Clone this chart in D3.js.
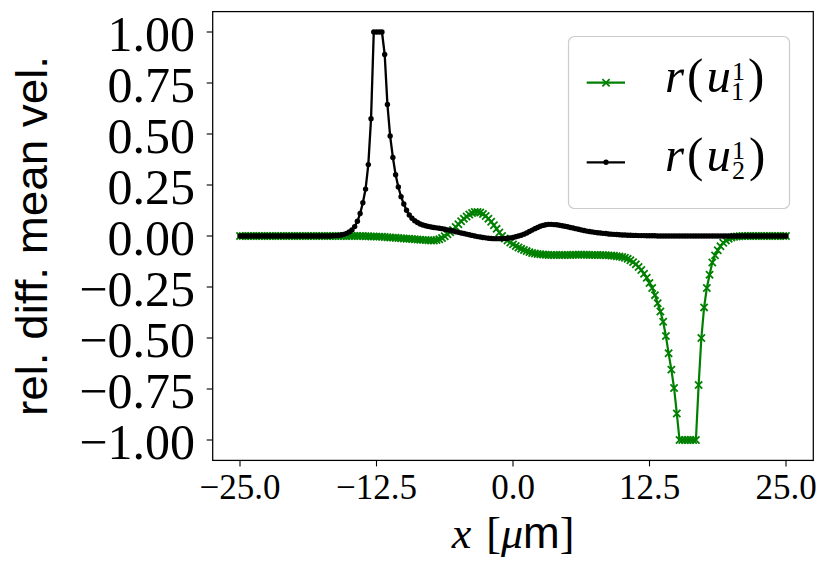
<!DOCTYPE html>
<html><head><meta charset="utf-8">
<script src="https://cdn.jsdelivr.net/npm/d3@7"></script>
<style>body{margin:0;background:#fff}svg{display:block}</style>
</head><body>
<svg id="c" width="830" height="575"></svg>
<script>
// sample positions x [µm]
const xs = [
-25,-24.75,-24.5,-24.25,-24,-23.75,-23.5,-23.25,-23,-22.75,-22.5,-22.25,-22,-21.75,-21.5,-21.25,-21,-20.75,-20.5,-20.25,
-20,-19.75,-19.5,-19.25,-19,-18.75,-18.5,-18.25,-18,-17.75,-17.5,-17.25,-17,-16.75,-16.5,-16.25,-16,-15.75,-15.5,-15.25,
-15,-14.75,-14.5,-14.25,-14,-13.75,-13.5,-13.25,-13,-12.75,-12.5,-12.25,-12,-11.75,-11.5,-11.25,-11,-10.75,-10.5,-10.25,
-10,-9.75,-9.5,-9.25,-9,-8.75,-8.5,-8.25,-8,-7.75,-7.5,-7.25,-7,-6.75,-6.5,-6.25,-6,-5.75,-5.5,-5.25,
-5,-4.75,-4.5,-4.25,-4,-3.75,-3.5,-3.25,-3,-2.75,-2.5,-2.25,-2,-1.75,-1.5,-1.25,-1,-0.75,-0.5,-0.25,
0,0.25,0.5,0.75,1,1.25,1.5,1.75,2,2.25,2.5,2.75,3,3.25,3.5,3.75,4,4.25,4.5,4.75,
5,5.25,5.5,5.75,6,6.25,6.5,6.75,7,7.25,7.5,7.75,8,8.25,8.5,8.75,9,9.25,9.5,9.75,
10,10.25,10.5,10.75,11,11.25,11.5,11.75,12,12.25,12.5,12.75,13,13.25,13.5,13.75,14,14.25,14.5,14.75,
15,15.25,15.5,15.75,16,16.25,16.5,16.75,17,17.25,17.5,17.75,18,18.25,18.5,18.75,19,19.25,19.5,19.75,
20,20.25,20.5,20.75,21,21.25,21.5,21.75,22,22.25,22.5,22.75,23,23.25,23.5,23.75,24,24.25,24.5,24.75,
25];

// r(u_1^1)
const ru1 = [
0,0,0,0,0,0,0,0,0,0,0,0,0,0,0,0,0,0,0,0,
0,0,0,0,0,0,0,0,0,0,0,0,0,0,0,0,0,0,0,0,
0,0,0,0,0,0,-0.001,-0.001,-0.002,-0.002,-0.003,-0.003,-0.004,-0.005,-0.006,-0.007,-0.008,-0.009,-0.01,-0.011,
-0.012,-0.013,-0.014,-0.015,-0.016,-0.017,-0.018,-0.019,-0.02,-0.021,-0.022,-0.022,-0.02,-0.016,-0.01,-0.001,0.008,0.018,0.03,0.044,
0.058,0.072,0.085,0.096,0.105,0.113,0.118,0.118,0.115,0.108,0.098,0.085,0.07,0.053,0.035,0.017,0,-0.012,-0.022,-0.032,
-0.041,-0.049,-0.056,-0.063,-0.069,-0.074,-0.079,-0.083,-0.086,-0.088,-0.09,-0.091,-0.092,-0.093,-0.093,-0.093,-0.093,-0.093,-0.093,-0.093,
-0.093,-0.093,-0.092,-0.092,-0.092,-0.092,-0.092,-0.092,-0.093,-0.093,-0.093,-0.093,-0.093,-0.093,-0.094,-0.095,-0.096,-0.097,-0.099,-0.101,
-0.103,-0.107,-0.112,-0.119,-0.128,-0.139,-0.152,-0.167,-0.185,-0.205,-0.23,-0.255,-0.29,-0.33,-0.37,-0.42,-0.49,-0.575,-0.655,-0.745,
-0.87,-1,-1,-1,-1,-1,-1,-1,-0.73,-0.5,-0.35,-0.255,-0.19,-0.13,-0.095,-0.07,-0.05,-0.033,-0.022,-0.014,
-0.008,-0.004,-0.002,-0.001,0,0,0,0,0,0,0,0,0,0,0,0,0,0,0,0,
0];

// r(u_2^1)
const ru2 = [
0,0,0,0,0,0,0,0,0,0,0,0,0,0,0,0,0,0,0,0,
0,0,0,0,0,0,0,0,0,0,0,0,0,0,0.001,0.002,0.003,0.005,0.008,0.013,
0.02,0.03,0.046,0.072,0.11,0.163,0.23,0.35,0.575,1,1,1,1,0.89,0.645,0.49,0.385,0.30,0.24,0.193,
0.157,0.126,0.103,0.087,0.075,0.066,0.059,0.054,0.05,0.047,0.044,0.042,0.04,0.038,0.036,0.033,0.03,0.028,0.025,0.021,
0.018,0.015,0.012,0.009,0.006,0.003,0,-0.003,-0.005,-0.007,-0.009,-0.011,-0.012,-0.013,-0.013,-0.013,-0.013,-0.012,-0.011,-0.009,
-0.007,-0.004,0,0.004,0.009,0.015,0.022,0.029,0.036,0.042,0.048,0.052,0.055,0.057,0.057,0.056,0.055,0.053,0.05,0.048,
0.045,0.042,0.039,0.036,0.033,0.03,0.027,0.024,0.022,0.02,0.018,0.016,0.015,0.013,0.012,0.01,0.009,0.008,0.007,0.006,
0.005,0.005,0.004,0.004,0.003,0.003,0.002,0.002,0.002,0.001,0.001,0.001,0.001,0,0,0,0,0,0,0,
0,0,0,0,0,0,0,0,0,0,0,0,0,0,0,0,0,0,0,0,
0,0,0,0,0,0,0,0,0,0,0,0,0,0,0,0,0,0,0,0,
0];

const xTicks = [-25, -12.5, 0, 12.5, 25];
const yTicks = [1, 0.75, 0.5, 0.25, 0, -0.25, -0.5, -0.75, -1];
const legendSubs = ["1", "2"];
const legendSups = ["1", "1"];
const seriesColors = ["green", "black"];

const svg = d3.select("#c");
const x = d3.scaleLinear().domain([-27.5, 27.5]).range([212.7, 813.3]);
const y = d3.scaleLinear().domain([-1.1, 1.1]).range([460.4, 11.6]);

const serif = "'Liberation Serif', 'DejaVu Serif', serif";
const sans = "'Liberation Sans', Arial, sans-serif";

// tick labels with math-like minus
function tickText(t, s, size) {
  if (s.startsWith("-")) {
    t.append("tspan").attr("font-family", "'DejaVu Serif', serif")
      .attr("font-size", size * 1.15).attr("dy", size * 0.08).text("\u2212");
    t.append("tspan").attr("dx", -size * 0.1).attr("dy", -size * 0.08).text(s.slice(1));
  } else t.text(s);
}

// data series
const pts1 = xs.map((v, i) => [v, ru1[i]]);
const pts2 = xs.map((v, i) => [v, ru2[i]]);
const line = d3.line().x(d => x(d[0])).y(d => y(d[1]));
const plot = svg.append("g");
const xm = 3.6;
const xMarker = `M${-xm},${-xm}L${xm},${xm}M${-xm},${xm}L${xm},${-xm}`;

plot.append("path").attr("d", line(pts1)).attr("fill", "none")
  .attr("stroke", seriesColors[0]).attr("stroke-width", 2.2);
plot.append("g").selectAll("path").data(pts1).join("path")
  .attr("d", xMarker).attr("transform", d => `translate(${x(d[0])},${y(d[1])})`)
  .attr("stroke", seriesColors[0]).attr("stroke-width", 1.8).attr("fill", "none");

plot.append("path").attr("d", line(pts2)).attr("fill", "none")
  .attr("stroke", seriesColors[1]).attr("stroke-width", 2.3);
plot.append("g").selectAll("circle").data(pts2).join("circle")
  .attr("cx", d => x(d[0])).attr("cy", d => y(d[1])).attr("r", 2.7)
  .attr("fill", seriesColors[1]);

// frame
const [x0, x1] = x.range();
const [yb, yt] = y.range();
svg.append("rect").attr("x", x0).attr("y", yt).attr("width", x1 - x0).attr("height", yb - yt)
  .attr("fill", "none").attr("stroke", "black").attr("stroke-width", 1.25);

// x ticks
const fx = d3.format(".1f");
const xt = svg.append("g");
xTicks.forEach(v => {
  xt.append("line").attr("x1", x(v)).attr("x2", x(v)).attr("y1", yb).attr("y2", yb + 6)
    .attr("stroke", "black").attr("stroke-width", 1.1);
  const t = xt.append("text").attr("x", x(v)).attr("y", yb + 38.5)
    .attr("text-anchor", "middle").attr("font-family", serif).attr("font-size", 35);
  tickText(t, fx(v), 35);
});

// y ticks
const fy = d3.format(".2f");
const yt2 = svg.append("g");
yTicks.forEach(v => {
  yt2.append("line").attr("x1", x0 - 6).attr("x2", x0).attr("y1", y(v)).attr("y2", y(v))
    .attr("stroke", "black").attr("stroke-width", 1.1);
  const t = yt2.append("text").attr("x", 195).attr("y", y(v) + 19)
    .attr("text-anchor", "end").attr("font-family", serif).attr("font-size", 50);
  tickText(t, fy(v), 50);
});

// axis labels
const xl = svg.append("text").attr("x", (x0 + x1) / 2).attr("y", 548)
  .attr("text-anchor", "middle").attr("font-family", serif).attr("font-size", 44);
xl.append("tspan").attr("font-style", "italic").text("x");
xl.append("tspan").attr("dx", 4).text(" [");
xl.append("tspan").attr("font-style", "italic").text("\u03bc");
xl.append("tspan").attr("font-family", sans).text("m");
xl.append("tspan").text("]");

svg.append("text").attr("transform", `translate(47,${(yt + yb) / 2}) rotate(-90)`)
  .attr("text-anchor", "middle").attr("font-family", sans).attr("font-size", 45)
  .attr("textLength", 360).attr("lengthAdjust", "spacingAndGlyphs")
  .text("rel. diff. mean vel.");

// legend
const lg = svg.append("g");
lg.append("rect").attr("x", 568.5).attr("y", 36.5).attr("width", 221).attr("height", 172)
  .attr("rx", 6).attr("fill", "white").attr("fill-opacity", 0.8)
  .attr("stroke", "#cccccc").attr("stroke-width", 1.2);
const rows = [82.7, 162.3];
rows.forEach((ry, i) => {
  lg.append("line").attr("x1", 586.7).attr("x2", 625).attr("y1", ry).attr("y2", ry)
    .attr("stroke", seriesColors[i]).attr("stroke-width", 2.2);
  if (i === 0) {
    lg.append("path").attr("d", xMarker).attr("transform", `translate(606,${ry})`)
      .attr("stroke", seriesColors[i]).attr("stroke-width", 1.8).attr("fill", "none");
  } else {
    lg.append("circle").attr("cx", 606).attr("cy", ry).attr("r", 2.7).attr("fill", seriesColors[i]);
  }
  const t = lg.append("text").attr("x", 665).attr("y", ry + 9)
    .attr("font-family", serif).attr("font-size", 49);
  t.append("tspan").attr("font-style", "italic").text("r");
  t.append("tspan").attr("dx", 3).text("(");
  t.append("tspan").attr("dx", 3).attr("font-style", "italic").text("u");
  t.append("tspan").attr("dx", 1).attr("font-size", 26).attr("dy", -12).text(legendSups[i]);
  t.append("tspan").attr("font-size", 26).attr("dx", -13).attr("dy", 20).text(legendSubs[i]);
  t.append("tspan").attr("dx", 4).attr("dy", -8).text(")");
});
</script>
</body></html>
